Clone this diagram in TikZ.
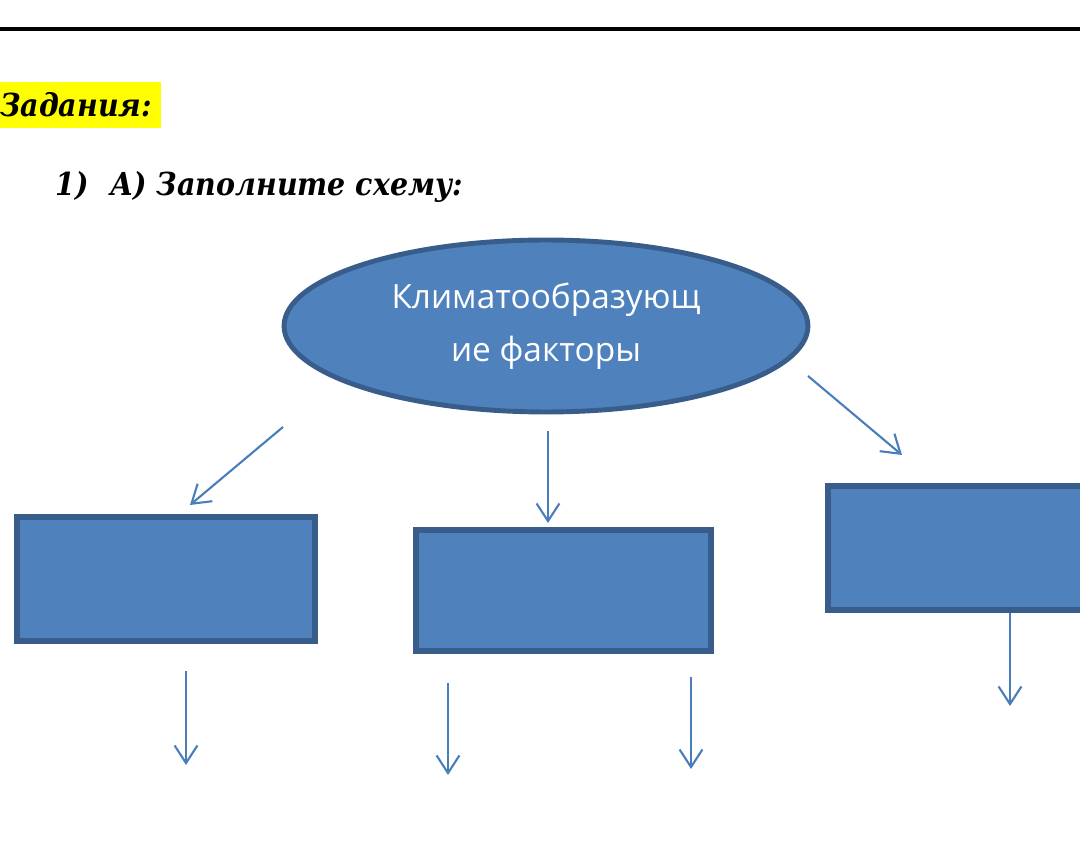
\documentclass[tikz,border=0pt]{standalone}
\usepackage{fontspec}
\setmainfont{DejaVu Serif}[FakeStretch=0.9]
\newfontfamily\schemefont{Open Sans}
\usetikzlibrary{shapes.geometric, arrows.meta, positioning, calc}
\definecolor{boxblue}{RGB}{79, 129, 189}
\definecolor{boxedge}{RGB}{56, 93, 138}
\definecolor{arrowblue}{RGB}{74, 126, 187}
\definecolor{marker}{RGB}{255, 255, 0}

\begin{document}
\begin{tikzpicture}[x=0.02cm, y=-0.02cm,
    factorbox/.style={draw=boxedge, fill=boxblue, line width=3.2pt, inner sep=0pt,
      minimum width=5.96cm, minimum height=2.48cm},
    factorarrow/.style={draw=arrowblue, line width=1.2pt,
      -{Straight Barb[length=10pt, width=13pt, line width=1.2pt]}},
    heading/.style={font=\bfseries\itshape\fontsize{18}{21}\selectfont, inner sep=0pt}]
  \useasboundingbox (0,0) rectangle (1080,854);
  \clip (0,0) rectangle (1080,854);

  % rule under the cut-off title line
  \draw[line width=2.3pt] (0,29) -- (1080,29);

  % headings
  \node[heading, fill=marker, inner xsep=5pt, inner ysep=6pt, anchor=base west] (tasks) at (-9,117) {Задания:};
  \node[heading, anchor=base west] (num) at (55,196) {1)};
  \node[heading, anchor=base west] (task) at (110,196) {А) Заполните схему:};

  % scheme
  \node[ellipse, draw=boxedge, fill=boxblue, line width=2.8pt, inner sep=0pt,
    minimum width=10.48cm, minimum height=3.44cm, text=white, align=center,
    font=\schemefont\fontsize{19}{30}\selectfont] (clim) at (546,326)
    {Климатообразующ\\ие факторы};
  \node[factorbox] (left) at (166,579) {};
  \node[factorbox, minimum width=5.9cm, minimum height=2.42cm] (middle) at (563.5,590.5) {};
  \node[factorbox] (right) at (977,548) {};

  % arrow ends
  \coordinate (c1s) at ($(clim)+(-263,101)$);
  \coordinate (c1e) at ($(left)+(24,-74)$);
  \coordinate (c2s) at ($(clim)+(2,105)$);
  \coordinate (c2e) at ($(middle)+(-15.5,-67.5)$);
  \coordinate (c3s) at ($(clim)+(262,50)$);
  \coordinate (c3e) at ($(right)+(-75,-93)$);
  \coordinate (l1) at ($(left)+(20,92)$);
  \coordinate (l2) at ($(left)+(20,186)$);
  \coordinate (m1) at ($(middle)+(-115.5,92.5)$);
  \coordinate (m2) at ($(middle)+(-115.5,184.5)$);
  \coordinate (m3) at ($(middle)+(127.5,86.5)$);
  \coordinate (m4) at ($(middle)+(127.5,178.5)$);
  \coordinate (r1) at ($(right)+(33,65)$);
  \coordinate (r2) at ($(right)+(33,158)$);

  \draw[factorarrow] (c1s) -- (c1e);
  \draw[factorarrow] (c2s) -- (c2e);
  \draw[factorarrow] (c3s) -- (c3e);
  \draw[factorarrow] (l1) -- (l2);
  \draw[factorarrow] (m1) -- (m2);
  \draw[factorarrow] (m3) -- (m4);
  \draw[factorarrow] (r1) -- (r2);
\end{tikzpicture}
\end{document}
